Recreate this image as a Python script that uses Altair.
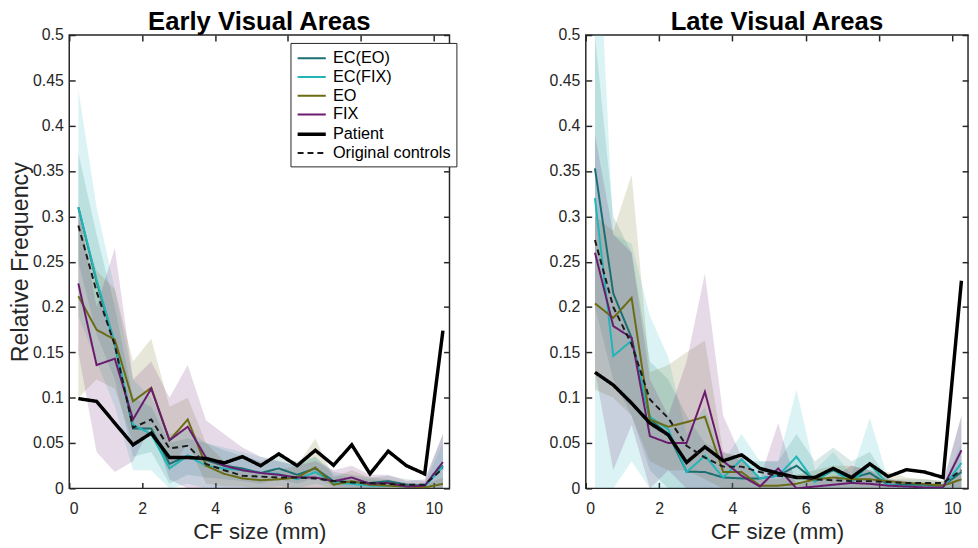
import altair as alt
import pandas as pd

# ---------------- data ----------------
series_names = ["EC(EO)", "EC(FIX)", "EO", "FIX", "Patient", "Original controls"]
series_colors = ["#1b6f72", "#22b5b8", "#6b6b14", "#6b1b6e", "#000000", "#1a1a1a"]
band_series = ["EC(EO)", "EC(FIX)", "EO", "FIX"]

cf_size = [0.25, 0.75, 1.25, 1.75, 2.25, 2.75, 3.25, 3.75, 4.25, 4.75, 5.25,
           5.75, 6.25, 6.75, 7.25, 7.75, 8.25, 8.75, 9.25, 9.75, 10.25]

x_ticks = [0, 2, 4, 6, 8, 10]
y_ticks = [0, 0.05, 0.1, 0.15, 0.2, 0.25, 0.3, 0.35, 0.4, 0.45, 0.5]

# Early visual areas
early_ec_eo = [0.31, 0.228, 0.159, 0.066, 0.066, 0.027, 0.036, 0.031, 0.025, 0.022, 0.017,
               0.022, 0.015, 0.022, 0.008, 0.007, 0.006, 0.008, 0.004, 0.003, 0.025]
early_ec_fix = [0.31, 0.23, 0.16, 0.07, 0.06, 0.022, 0.036, 0.025, 0.022, 0.02, 0.017,
                0.016, 0.01, 0.018, 0.006, 0.005, 0.003, 0.003, 0.002, 0.002, 0.024]
early_eo = [0.212, 0.175, 0.164, 0.096, 0.111, 0.053, 0.076, 0.025, 0.016, 0.011, 0.009,
            0.01, 0.012, 0.023, 0.004, 0.008, 0.004, 0.003, 0.002, 0.001, 0.005]
early_fix = [0.226, 0.136, 0.143, 0.076, 0.11, 0.053, 0.068, 0.034, 0.025, 0.02, 0.017,
             0.015, 0.012, 0.012, 0.008, 0.012, 0.005, 0.006, 0.002, 0.003, 0.029]
early_patient = [0.099, 0.096, 0.072, 0.048, 0.061, 0.034, 0.034, 0.033, 0.028, 0.035, 0.025,
                 0.038, 0.025, 0.042, 0.0255, 0.048, 0.016, 0.041, 0.025, 0.016, 0.174]
early_orig = [0.29, 0.217, 0.158, 0.067, 0.076, 0.044, 0.047, 0.027, 0.02, 0.014, 0.013,
              0.012, 0.012, 0.011, 0.008, 0.0065, 0.006, 0.005, 0.004, 0.004, 0.022]

early_ec_eo_hi = [0.37, 0.28, 0.20, 0.10, 0.09, 0.05, 0.055, 0.05, 0.042, 0.036, 0.03,
                  0.035, 0.03, 0.035, 0.018, 0.015, 0.012, 0.014, 0.01, 0.008, 0.06]
early_ec_eo_lo = [0.25, 0.17, 0.12, 0.035, 0.04, 0.005, 0.015, 0.012, 0.01, 0.008, 0.005,
                  0.01, 0.005, 0.012, 0.002, 0.001, 0.0, 0.002, 0.0, 0.0, 0.0]
early_ec_fix_hi = [0.44, 0.31, 0.22, 0.12, 0.10, 0.06, 0.065, 0.05, 0.045, 0.04, 0.035,
                   0.03, 0.025, 0.035, 0.015, 0.012, 0.01, 0.008, 0.006, 0.006, 0.05]
early_ec_fix_lo = [0.19, 0.14, 0.09, 0.02, 0.02, 0.0, 0.005, 0.0, 0.0, 0.0, 0.0,
                   0.003, 0.0, 0.005, 0.0, 0.0, 0.0, 0.0, 0.0, 0.0, 0.0]
early_eo_hi = [0.30, 0.24, 0.22, 0.14, 0.165, 0.09, 0.10, 0.05, 0.03, 0.02, 0.018,
               0.02, 0.025, 0.055, 0.012, 0.02, 0.012, 0.01, 0.006, 0.004, 0.012]
early_eo_lo = [0.10, 0.12, 0.11, 0.05, 0.06, 0.02, 0.05, 0.005, 0.002, 0.002, 0.0,
               0.0, 0.0, 0.0, 0.0, 0.0, 0.0, 0.0, 0.0, 0.0, 0.0]
early_fix_hi = [0.31, 0.20, 0.265, 0.12, 0.14, 0.10, 0.136, 0.075, 0.06, 0.045, 0.035,
                0.03, 0.025, 0.03, 0.02, 0.025, 0.015, 0.015, 0.008, 0.01, 0.06]
early_fix_lo = [0.15, 0.04, 0.018, 0.03, 0.07, 0.01, 0.0, 0.0, 0.0, 0.0, 0.0,
                0.0, 0.0, 0.0, 0.0, 0.0, 0.0, 0.0, 0.0, 0.0, 0.0]

# Late visual areas
late_ec_eo = [0.353, 0.215, 0.166, 0.076, 0.06, 0.0185, 0.018, 0.012, 0.011, 0.011, 0.014,
              0.025, 0.009, 0.02, 0.011, 0.017, 0.004, 0.004, 0.004, 0.003, 0.018]
late_ec_fix = [0.32, 0.146, 0.163, 0.079, 0.065, 0.018, 0.036, 0.012, 0.032, 0.011, 0.014,
               0.035, 0.007, 0.021, 0.006, 0.027, 0.004, 0.002, 0.001, 0.001, 0.028]
late_eo = [0.204, 0.188, 0.21, 0.076, 0.068, 0.073, 0.079, 0.018, 0.018, 0.003, 0.003,
           0.005, 0.01, 0.012, 0.01, 0.01, 0.008, 0.006, 0.005, 0.003, 0.01]
late_fix = [0.26, 0.179, 0.166, 0.0576, 0.05, 0.05, 0.1065, 0.03, 0.014, 0.002, 0.022,
            0.0, 0.002, 0.004, 0.006, 0.005, 0.003, 0.002, 0.001, 0.001, 0.042]
late_patient = [0.128, 0.114, 0.094, 0.072, 0.059, 0.0286, 0.0457, 0.0304, 0.037, 0.022, 0.0167,
                0.012, 0.012, 0.022, 0.012, 0.027, 0.013, 0.0206, 0.018, 0.012, 0.229]
late_orig = [0.274, 0.2, 0.159, 0.098, 0.0775, 0.047, 0.034, 0.024, 0.024, 0.018, 0.014,
             0.012, 0.01, 0.009, 0.008, 0.008, 0.007, 0.006, 0.006, 0.006, 0.02]

late_ec_eo_hi = [0.50, 0.30, 0.26, 0.14, 0.12, 0.08, 0.05, 0.04, 0.03, 0.03, 0.03,
                 0.06, 0.03, 0.045, 0.03, 0.04, 0.01, 0.01, 0.01, 0.008, 0.08]
late_ec_eo_lo = [0.20, 0.12, 0.08, 0.02, 0.0, 0.0, 0.0, 0.0, 0.0, 0.0, 0.0,
                 0.0, 0.0, 0.0, 0.0, 0.0, 0.0, 0.0, 0.0, 0.0, 0.0]
late_ec_fix_hi = [0.70, 0.28, 0.27, 0.19, 0.145, 0.06, 0.09, 0.03, 0.06, 0.03, 0.03,
                  0.109, 0.02, 0.04, 0.015, 0.0775, 0.01, 0.005, 0.003, 0.003, 0.05]
late_ec_fix_lo = [0.0, 0.0, 0.03, 0.0, 0.0, 0.0, 0.0, 0.0, 0.0, 0.0, 0.0,
                  0.0, 0.0, 0.0, 0.0, 0.0, 0.0, 0.0, 0.0, 0.0, 0.0]
late_eo_hi = [0.30, 0.284, 0.346, 0.128, 0.136, 0.15, 0.163, 0.04, 0.035, 0.01, 0.01,
              0.015, 0.02, 0.025, 0.025, 0.02, 0.018, 0.012, 0.01, 0.008, 0.02]
late_eo_lo = [0.109, 0.10, 0.08, 0.03, 0.02, 0.02, 0.01, 0.0, 0.0, 0.0, 0.0,
              0.0, 0.0, 0.0, 0.0, 0.0, 0.0, 0.0, 0.0, 0.0, 0.0]
late_fix_hi = [0.39, 0.28, 0.26, 0.12, 0.08, 0.14, 0.237, 0.08, 0.035, 0.01, 0.072,
               0.003, 0.01, 0.012, 0.025, 0.02, 0.01, 0.008, 0.005, 0.005, 0.08]
late_fix_lo = [0.13, 0.02, 0.07, 0.0, 0.02, 0.0, 0.0, 0.0, 0.0, 0.0, 0.0,
               0.0, 0.0, 0.0, 0.0, 0.0, 0.0, 0.0, 0.0, 0.0, 0.0]

early_means = [early_ec_eo, early_ec_fix, early_eo, early_fix, early_patient, early_orig]
early_his = [early_ec_eo_hi, early_ec_fix_hi, early_eo_hi, early_fix_hi]
early_los = [early_ec_eo_lo, early_ec_fix_lo, early_eo_lo, early_fix_lo]
late_means = [late_ec_eo, late_ec_fix, late_eo, late_fix, late_patient, late_orig]
late_his = [late_ec_eo_hi, late_ec_fix_hi, late_eo_hi, late_fix_hi]
late_los = [late_ec_eo_lo, late_ec_fix_lo, late_eo_lo, late_fix_lo]


def build_frames(means, his, los):
    rows = []
    for name, vals in zip(series_names, means):
        for i, (xv, v) in enumerate(zip(cf_size, vals)):
            rows.append({"series": name, "x": xv, "v": v, "order": i})
    lines = pd.DataFrame(rows)
    brow = []
    for name, hi, lo in zip(band_series, his, los):
        for xv, h, l in zip(cf_size, hi, lo):
            brow.append({"series": name, "x": xv, "hi": h, "lo": l})
    bands = pd.DataFrame(brow)
    return lines, bands


FONT = "Liberation Sans"
TXT = "#262626"
xscale = alt.Scale(domain=[0, 10.43], nice=False, zero=False)
yscale = alt.Scale(domain=[0, 0.5], nice=False)


def panel(title, means, his, los, show_legend, width, show_ytitle):
    lines_df, bands_df = build_frames(means, his, los)

    x_bottom = alt.Axis(values=x_ticks, title="CF size (mm)", orient="bottom",
                        titleFontSize=22.5, titlePadding=5, labelPadding=12)
    y_left = alt.Axis(values=y_ticks, format=".2~f",
                      title="Relative Frequency" if show_ytitle else None,
                      orient="left", titleFontSize=23.5, titlePadding=0, labelPadding=6)

    bands = alt.Chart(bands_df).mark_area(opacity=0.16, clip=True).encode(
        x=alt.X("x:Q", scale=xscale, axis=x_bottom),
        y=alt.Y("lo:Q", scale=yscale, axis=y_left),
        y2="hi:Q",
        fill=alt.Fill("series:N", scale=alt.Scale(domain=band_series, range=series_colors[:4]),
                      legend=None),
    )

    if show_legend:
        leg = alt.Legend(title=None, orient="none", legendX=224, legendY=8,
                         symbolType="M-1.5,0L1.5,0", symbolSize=361, symbolOffset=5,
                         labelOffset=10, rowPadding=0, padding=5,
                         labelFontSize=16.5, labelFont=FONT, labelColor="#000000",
                         strokeColor="#262626", fillColor="white")
    else:
        leg = None

    stroke = alt.Stroke("series:N", scale=alt.Scale(domain=series_names, range=series_colors),
                        legend=leg)
    dash = alt.StrokeDash("series:N",
                          scale=alt.Scale(domain=series_names,
                                          range=[[1, 0], [1, 0], [1, 0], [1, 0], [1, 0], [6, 4]]),
                          legend=leg)
    sw = alt.StrokeWidth("series:N",
                         scale=alt.Scale(type="ordinal", domain=series_names,
                                         range=[2, 2, 2, 2, 3.5, 2]),
                         legend=leg)

    base_lines = alt.Chart(lines_df)
    enc = dict(
        x=alt.X("x:Q", scale=xscale, axis=None),
        y=alt.Y("v:Q", scale=yscale, axis=None),
        stroke=stroke, strokeDash=dash, strokeWidth=sw,
        order="order:Q",
    )
    l1 = base_lines.transform_filter(
        alt.FieldOneOfPredicate(field="series", oneOf=band_series)
    ).mark_line(clip=True).encode(**enc)
    l2 = base_lines.transform_filter(
        alt.FieldOneOfPredicate(field="series", oneOf=["Patient", "Original controls"])
    ).mark_line(clip=True).encode(**enc)

    frame = alt.Chart(lines_df).mark_point(opacity=0).encode(
        x=alt.X("x:Q", scale=xscale,
                axis=alt.Axis(values=x_ticks, orient="top", labels=False, title=None,
                              minExtent=0, maxExtent=0)),
        y=alt.Y("v:Q", scale=yscale,
                axis=alt.Axis(values=y_ticks, orient="right", labels=False, title=None,
                              minExtent=0, maxExtent=0)),
    )

    return alt.layer(bands, l1, l2, frame).resolve_axis(
        x="independent", y="independent"
    ).properties(
        width=width, height=459,
        title=alt.TitleParams(title, fontSize=26, fontWeight="bold", font=FONT,
                              color="#000000", offset=3, dy=11, frame="group"),
    )


left = panel("Early Visual Areas", early_means, early_his, early_los, True, 385, True)
right = panel("Late Visual Areas", late_means, late_his, late_los, False, 387, False)

chart = alt.hconcat(left, right, spacing=91).resolve_scale(
    stroke="independent", strokeDash="independent", strokeWidth="independent",
    fill="independent"
).properties(
    padding={"top": -3, "left": 0, "right": 0, "bottom": 0}
).configure_view(
    stroke="#262626", strokeWidth=1.5
).configure_axis(
    domain=False, grid=False, offset=-6, tickSize=6, tickWidth=1.5, tickColor=TXT,
    labelFont=FONT, labelFontSize=16, labelColor=TXT,
    titleFont=FONT, titleColor=TXT, titleFontWeight="normal",
)

chart.save("out.html", embed_options={"renderer": "svg", "actions": False})
